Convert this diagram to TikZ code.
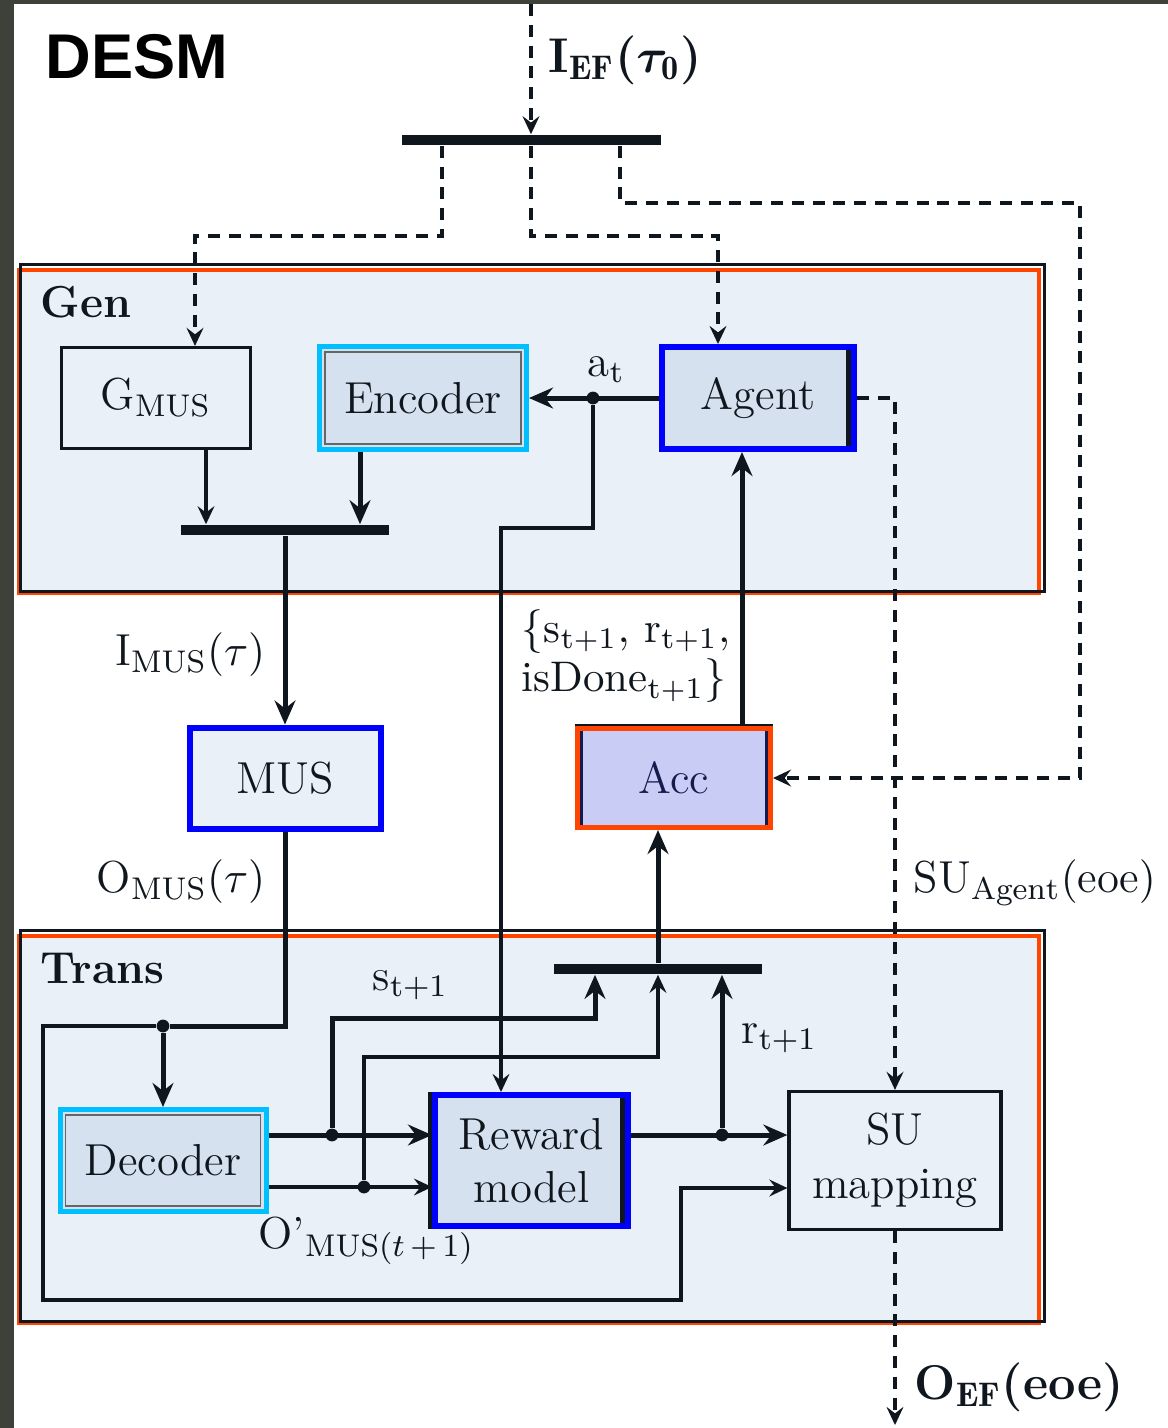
\documentclass[tikz,border=0pt]{standalone}
\usepackage{amsmath}
\usepackage{bm}
\usepackage{fontspec}
\newfontfamily\headfont{Liberation Sans}
\usetikzlibrary{arrows.meta}
\definecolor{ink}{HTML}{10161E}
\definecolor{shotframe}{HTML}{3E4139}
\definecolor{stageline}{HTML}{FF4500}
\definecolor{stagefill}{HTML}{E9F0F8}
\definecolor{unitfill}{HTML}{D5E1EE}
\definecolor{accfill}{HTML}{C9CDF5}
\definecolor{accink}{HTML}{151B4C}
\definecolor{learnblue}{HTML}{0000FF}
\definecolor{codecyan}{HTML}{00BFFF}

\begin{document}
\begin{tikzpicture}[x=0.25pt, y=-0.25pt,
  every node/.style={font=\fontsize{11.2}{13.4}\selectfont, text=ink},
  lbl/.style={inner sep=0pt, anchor=base west},
  eflbl/.style={lbl, font=\fontsize{12.2}{14}\selectfont},
  stage/.style={draw=stageline, line width=1pt, fill=stagefill, minimum width=255pt, inner sep=0pt},
  stageedge/.style={draw=ink, line width=0.75pt},
  plainbox/.style={draw=ink, line width=0.8pt, fill=stagefill},
  learner/.style={draw=learnblue, line width=1.5pt},
  coder/.style={draw=codecyan, line width=1.25pt, fill=unitfill,
    path picture={\draw[black!60, line width=0.35pt] ([shift={(1.4pt,-1.4pt)}]path picture bounding box.north west) rectangle ([shift={(-1.4pt,1.4pt)}]path picture bounding box.south east);}},
  rightband/.style={path picture={\fill[ink] ([xshift=-2.1pt]path picture bounding box.north east) rectangle (path picture bounding box.south east);}},
  accum/.style={draw=stageline, line width=1.25pt, fill=accfill, text=accink,
    path picture={\fill[accink] (path picture bounding box.north west) rectangle ([xshift=1.4pt]path picture bounding box.south west);
      \fill[accink] ([xshift=-1.4pt]path picture bounding box.north east) rectangle (path picture bounding box.south east);}},
  bar/.style={fill=ink, inner sep=0pt, minimum height=2.5pt, minimum width=52pt},
  dot/.style={circle, fill=ink, inner sep=0pt, minimum size=3.2pt},
  flow/.style={draw=ink, line width=1.25pt, -{Stealth[length=6pt, width=5.2pt, inset=2pt]}},
  thinflow/.style={draw=ink, line width=0.8pt, -{Stealth[length=4.5pt, width=4.2pt, inset=1.6pt]}},
  link/.style={draw=ink, line width=1.25pt},
  efflow/.style={draw=ink, line width=1pt, dash pattern=on 3pt off 2.2pt, -{Stealth[length=4.5pt, width=4.2pt, inset=1.6pt]}}]
  \useasboundingbox (0,0) rectangle (1168,1428);
  \fill[shotframe] (0,0) rectangle (1168,1428);
  \fill[white] (14,4) rectangle (1168,1428);
  % the two stages
  \node[stage, minimum height=80.75pt] (gen) at (529,431.5) {};
  \node[stage, minimum height=96.75pt] (trans) at (529,1129.5) {};
  \draw[stageedge] ([shift={(0.75pt,1pt)}]gen.south west) rectangle ([shift={(0.75pt,1pt)}]gen.north east);
  \draw[stageedge] ([shift={(0.75pt,1pt)}]trans.south west) rectangle ([shift={(0.75pt,1pt)}]trans.north east);
  \node[lbl, font=\fontsize{11.2}{13.4}\selectfont\bfseries] (genlbl) at (40,317) {Gen};
  \node[lbl, font=\fontsize{11.2}{13.4}\selectfont\bfseries] (translbl) at (40,983) {Trans};
  % blocks
  \node[plainbox, minimum width=47.25pt, minimum height=25.25pt] (gmus) at (156,398) {$\mathrm{G_{MUS}}$};
  \node[coder, minimum width=51.75pt, minimum height=25.75pt] (enc) at (423,398) {Encoder};
  \node[learner, rightband, fill=unitfill, minimum width=48pt, minimum height=25.5pt] (agent) at (758,398) {Agent};
  \node[learner, fill=stagefill, minimum width=47.75pt, minimum height=25.25pt] (mus) at (285,778) {MUS};
  \node[accum, minimum width=48.25pt, minimum height=24.75pt] (acc) at (674,778) {Acc};
  \node[coder, minimum width=51.5pt, minimum height=25.5pt] (dec) at (163,1160.5) {Decoder};
  \node[learner, rightband, fill=unitfill, align=center, minimum width=48.25pt, minimum height=32.75pt] (rew) at (531.5,1160.5) {Reward\\model};
  \node[plainbox, align=center, minimum width=53pt, minimum height=34.5pt] (su) at (895,1160.5) {SU\\mapping};
  \draw[ink, line width=1pt] ([xshift=-0.5pt]rew.north west) -- ([xshift=-0.5pt]rew.south west);
  \draw[ink, line width=0.6pt] ([yshift=0.3pt]acc.north west) -- ([yshift=0.3pt]acc.north east);
  \node[bar, minimum width=64.75pt] (topbar) at (531,140) {};
  \node[bar] (genbar) at (285,530) {};
  \node[bar] (transbar) at (658,969) {};
  \node[dot] (j1) at (163,1026) {};
  \node[dot] (j2) at (593,398) {};
  \node[dot] (j3) at (332,1135) {};
  \node[dot] (j4) at (364,1187) {};
  \node[dot] (j5) at (722,1135) {};
  \coordinate (efin) at (531,4);
  \coordinate (efout) at (895,1425);
  \coordinate (gtap) at ([xshift=12.5pt]gmus.south);
  \coordinate (etap) at ([xshift=-15.75pt]enc.south);
  \coordinate (atap) at ([xshift=17pt]acc.north);
  \coordinate (rtap) at ([xshift=-7.625pt]rew.north);
  \coordinate (stap) at ([xshift=-15.75pt]transbar.south);
  \coordinate (dechi) at ([yshift=6.375pt]dec.east);
  \coordinate (declo) at ([yshift=-6.625pt]dec.east);
  \coordinate (rewhi) at ([yshift=6.375pt]rew.east);
  \coordinate (sulo) at ([yshift=-6.875pt]su.west);
  % episode flow (dashed)
  \draw[efflow] (efin) -- (topbar);
  \draw[efflow] ([xshift=-22.25pt]topbar.south) -- ++(0,90) -| ([xshift=9.75pt]gmus.north);
  \draw[efflow] (topbar.south) -- ++(0,90) -| ([xshift=-10pt]agent.north);
  \draw[efflow] ([xshift=22.25pt]topbar.south) -- ++(0,57) -- ++(460,0) |- (acc.east);
  \draw[efflow] (agent.east) -| (su.north);
  \draw[efflow] (su.south) -- (efout);
  % step flow
  \draw[thinflow] (gtap) -- (gtap |- genbar.north);
  \draw[flow] (etap) -- (etap |- genbar.north);
  \draw[flow] (genbar) -- (mus);
  \draw[link] (mus) |- (j1);
  \draw[flow] (j1) -- (dec);
  \draw[thinflow] (j1) -- ++(-120,0) -- ++(0,274) -- ++(638,0) |- (sulo);
  \draw[flow] (agent) -- (enc);
  \draw[thinflow] (j2) -- ++(0,130) -| (rtap);
  \draw[flow] (atap) -- (atap |- agent.south);
  \draw[flow] (transbar.north) -- (transbar.north |- acc.south);
  \draw[flow] (dechi) -- (dechi -| rew.west);
  \draw[flow] (j3) -- ++(0,-117) -| (stap);
  \draw[thinflow] (declo) -- (declo -| rew.west);
  \draw[thinflow] (j4) -- ++(0,-130) -| (transbar.south);
  \draw[flow] (rewhi) -- (rewhi -| su.west);
  \draw[flow] (j5) -- (j5 |- transbar.south);
  % labels
  \node[lbl, font=\headfont\bfseries\fontsize{15.8}{18}\selectfont, text=black] (title) at (45,78) {DESM};
  \node[eflbl] (efinlbl) at (548,72) {\textbf{I}$_{\mathbf{EF}}$\textbf{(}$\bm{\tau}_{\mathbf{0}}$\textbf{)}};
  \node[lbl] (atlbl) at (587,376) {$\mathrm{a_t}$};
  \node[lbl, anchor=base east] (imuslbl) at (266,665) {$\mathrm{I_{MUS}}(\tau)$};
  \node[lbl, anchor=base east] (omuslbl) at (266,892) {$\mathrm{O_{MUS}}(\tau)$};
  \node[inner sep=0pt, anchor=west, align=left, font=\fontsize{10.7}{12.4}\selectfont] (obslbl) at (521,656) {$\{\mathrm{s_{t+1}},\,\mathrm{r_{t+1}},$\\$\mathrm{isDone_{t+1}}\}$};
  \node[lbl] (slbl) at (372,990) {$\mathrm{s_{t+1}}$};
  \node[lbl] (rlbl) at (741,1043) {$\mathrm{r_{t+1}}$};
  \node[lbl] (oplbl) at (258,1248) {O'$_{\mathrm{MUS}(t\,{+}\,1)}$};
  \node[lbl] (sualbl) at (913,892) {$\mathrm{SU_{Agent}(eoe)}$};
  \node[eflbl] (efoutlbl) at (914,1399) {\textbf{O}$_{\mathbf{EF}}$\textbf{(eoe)}};
\end{tikzpicture}
\end{document}
